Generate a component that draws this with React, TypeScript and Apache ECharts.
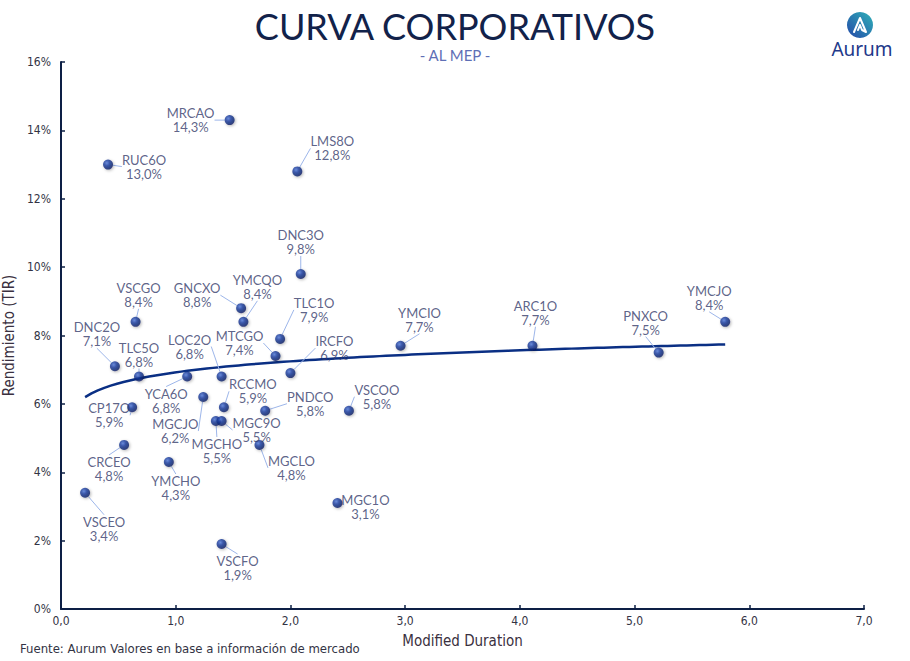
import React, { useEffect, useRef } from "react";
import * as echarts from "echarts";

const bondNames = [
  "MRCAO", "RUC6O", "LMS8O", "DNC3O", "GNCXO", "YMCQO", "VSCGO", "TLC1O",
  "YMCIO", "ARC1O", "PNXCO", "YMCJO", "DNC2O", "MTCGO", "IRCFO", "TLC5O",
  "LOC2O", "YCA6O", "MGCJO", "CP17O", "RCCMO", "PNDCO", "VSCOO", "MGCHO",
  "MGC9O", "CRCEO", "MGCLO", "YMCHO", "VSCEO", "MGC1O", "VSCFO",
];
const durations = [
  1.47, 0.41, 2.06, 2.09, 1.57, 1.59, 0.65, 1.91,
  2.96, 4.11, 5.21, 5.79, 0.47, 1.87, 2.0, 0.68,
  1.4, 1.1, 1.24, 0.62, 1.42, 1.78, 2.51, 1.35,
  1.4, 0.55, 1.73, 0.94, 0.21, 2.41, 1.4,
];
const yields = [
  14.3, 13.0, 12.8, 9.8, 8.8, 8.4, 8.4, 7.9,
  7.7, 7.7, 7.5, 8.4, 7.1, 7.4, 6.9, 6.8,
  6.8, 6.8, 6.2, 5.9, 5.9, 5.8, 5.8, 5.5,
  5.5, 4.8, 4.8, 4.3, 3.4, 3.1, 1.9,
];

// label offsets (px) relative to each point
const labelOffsets: Record<string, [number, number]> = {
  MRCAO: [-39, 0], RUC6O: [36, 2], LMS8O: [35, -23], DNC3O: [0, -32],
  GNCXO: [-44, -13], YMCQO: [14, -35], VSCGO: [3, -27], TLC1O: [34, -29],
  YMCIO: [19, -26], ARC1O: [3, -33], PNXCO: [-13, -30], YMCJO: [-16, -24],
  DNC2O: [-18, -32], MTCGO: [-36, -13], IRCFO: [44, -25], TLC5O: [0, -22],
  LOC2O: [-32, -30], YCA6O: [-21, 24], MGCJO: [-28, 34], CP17O: [-23, 8],
  RCCMO: [29, -16], PNDCO: [45, -7], VSCOO: [28, -14], MGCHO: [1, 30],
  MGC9O: [35, 9], CRCEO: [-15, 24], MGCLO: [32, 23], YMCHO: [7, 26],
  VSCEO: [19, 36], MGC1O: [28, 4], VSCFO: [16, 24],
};

const fmt = (v: number) => v.toFixed(1).replace(".", ",");

function logTrend() {
  const n = durations.length;
  const L = durations.map((x) => Math.log(x));
  const mL = L.reduce((a, b) => a + b, 0) / n;
  const mY = yields.reduce((a, b) => a + b, 0) / n;
  let sxy = 0, sxx = 0;
  for (let i = 0; i < n; i++) {
    sxy += (L[i] - mL) * (yields[i] - mY);
    sxx += (L[i] - mL) * (L[i] - mL);
  }
  const b = sxy / sxx;
  const a = mY - b * mL;
  const lo = Math.min(...durations);
  const hi = Math.max(...durations);
  const pts: number[][] = [];
  const steps = 100;
  for (let i = 0; i <= steps; i++) {
    const x = lo + ((hi - lo) * i) / steps;
    pts.push([x, a + b * Math.log(x)]);
  }
  return pts;
}

export default function App() {
  const ref = useRef<HTMLDivElement>(null);
  useEffect(() => {
    if (!ref.current) return;
    const chart = echarts.init(ref.current, undefined, { renderer: "svg" });
    const navy = "#0d1f45";
    const labelFont = "Lato, 'Noto Sans', sans-serif";
    const narrow = "'Liberation Sans Narrow', 'DejaVu Sans Condensed', 'Liberation Sans', sans-serif";
    chart.setOption({
      animation: false,
      backgroundColor: "#ffffff",
      grid: { left: 61, right: 46, top: 62, bottom: 52, containLabel: false, outerBoundsMode: "none" },
      xAxis: {
        type: "value",
        min: 0,
        max: 7,
        interval: 1,
        name: "Modified Duration",
        nameLocation: "middle",
        nameGap: 24,
        nameTextStyle: { fontFamily: narrow, fontSize: 15, color: "#3a3040" },
        axisLine: { show: true, lineStyle: { color: navy, width: 2 } },
        axisTick: { show: true, inside: true, length: 4, lineStyle: { color: navy, width: 1.5 } },
        axisLabel: { formatter: (v: number) => fmt(v), fontFamily: narrow, fontSize: 12, color: "#333344", margin: 6 },
        splitLine: { show: false },
      },
      yAxis: {
        type: "value",
        min: 0,
        max: 16,
        interval: 2,
        name: "Rendimiento (TIR)",
        nameLocation: "middle",
        nameGap: 37,
        nameTextStyle: { fontFamily: narrow, fontSize: 15, color: "#3a3040" },
        axisLine: { show: true, lineStyle: { color: navy, width: 2 } },
        axisTick: { show: true, inside: true, length: 4, lineStyle: { color: navy, width: 1.5 } },
        axisLabel: { formatter: (v: number) => `${v}%`, fontFamily: narrow, fontSize: 12, color: "#333344", margin: 10 },
        splitLine: { show: false },
      },
      series: [
        {
          type: "line",
          data: logTrend(),
          showSymbol: false,
          silent: true,
          z: 1,
          lineStyle: { color: "#0a2f84", width: 2.5 },
        },
        {
          type: "scatter",
          z: 3,
          symbolSize: 10,
          data: durations.map((x, i) => ({ name: bondNames[i], value: [x, yields[i]] })),
          itemStyle: {
            color: {
              type: "radial",
              x: 0.38,
              y: 0.35,
              r: 0.7,
              colorStops: [
                { offset: 0, color: "#5078d8" },
                { offset: 0.4, color: "#173a9c" },
                { offset: 1, color: "#0a1a5c" },
              ],
            },
            shadowBlur: 3,
            shadowColor: "rgba(0,0,0,0.35)",
            shadowOffsetX: 1,
            shadowOffsetY: 1,
          },
          label: {
            show: true,
            position: "inside",
            formatter: (p: any) => `${p.name}\n${fmt(p.value[1])}%`,
            fontFamily: labelFont,
            fontSize: 13,
            lineHeight: 14,
            color: "#343a6a",
          },
          labelLayout: (p: any) => {
            const o = labelOffsets[bondNames[p.dataIndex]] || [0, -25];
            return { dx: o[0], dy: o[1] };
          },
          labelLine: { show: true, lineStyle: { color: "#9db6ea", width: 1 } },
        },
      ],
      graphic: [
        {
          type: "text",
          x: 455,
          y: 26,
          style: {
            text: "CURVA CORPORATIVOS",
            fontFamily: labelFont,
            fontSize: 36,
            lineHeight: 34,
            fill: "#12224a",
            align: "center",
            verticalAlign: "middle",
          },
        },
        {
          type: "text",
          x: 455,
          y: 55,
          style: {
            text: "- AL MEP -",
            fontFamily: labelFont,
            fontSize: 15,
            lineHeight: 15,
            fill: "#5f6fb6",
            align: "center",
            verticalAlign: "middle",
          },
        },
        {
          type: "text",
          x: 20,
          y: 648,
          style: {
            text: "Fuente: Aurum Valores en base a información de mercado",
            fontFamily: narrow,
            fontSize: 13,
            fill: "#333344",
            verticalAlign: "middle",
          },
        },
        {
          type: "circle",
          shape: { cx: 860, cy: 25, r: 13 },
          style: {
            fill: {
              type: "linear",
              x: 1,
              y: 0,
              x2: 0,
              y2: 1,
              colorStops: [
                { offset: 0, color: "#2fb2b8" },
                { offset: 1, color: "#2448a8" },
              ],
            },
          },
        },
        {
          type: "polyline",
          shape: { points: [[854, 32], [860, 18], [866, 32], [862, 30], [860, 25], [858, 30]] },
          style: { stroke: "#ffffff", lineWidth: 2, fill: "none", lineJoin: "round", lineCap: "round" },
        },
        {
          type: "text",
          x: 862,
          y: 49,
          style: {
            text: "Aurum",
            fontFamily: "'Noto Sans', sans-serif",
            fontSize: 19,
            fill: "#22398a",
            align: "center",
            verticalAlign: "middle",
          },
        },
      ],
    });
    return () => chart.dispose();
  }, []);
  return (
    <div
      ref={ref}
      style={{ position: "fixed", left: 0, top: 0, width: 910, height: 661 }}
    />
  );
}
